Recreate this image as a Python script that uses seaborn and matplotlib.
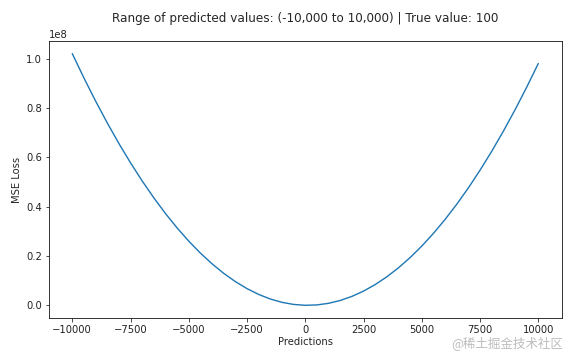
import matplotlib
matplotlib.use('Agg')
import matplotlib.pyplot as plt
import seaborn as sns
import pandas as pd

predictions = [-10000, -9500, -9000, -8500, -8000, -7500, -7000, -6500, -6000, -5500,
               -5000, -4500, -4000, -3500, -3000, -2500, -2000, -1500, -1000, -500,
               0, 500, 1000, 1500, 2000, 2500, 3000, 3500, 4000, 4500,
               5000, 5500, 6000, 6500, 7000, 7500, 8000, 8500, 9000, 9500, 10000]
mse_loss = [1.0201e8, 0.9216e8, 0.8281e8, 0.7396e8, 0.6561e8, 0.5776e8, 0.5041e8, 0.4356e8,
            0.3721e8, 0.3136e8, 0.2601e8, 0.2116e8, 0.1681e8, 0.1296e8, 0.0961e8, 0.0676e8,
            0.0441e8, 0.0256e8, 0.0121e8, 0.0036e8, 0.0001e8, 0.0016e8, 0.0081e8, 0.0196e8,
            0.0361e8, 0.0576e8, 0.0841e8, 0.1156e8, 0.1521e8, 0.1936e8, 0.2401e8, 0.2916e8,
            0.3481e8, 0.4096e8, 0.4761e8, 0.5476e8, 0.6241e8, 0.7056e8, 0.7921e8, 0.8836e8,
            0.9801e8]

df = pd.DataFrame({'Predictions': predictions, 'MSE Loss': mse_loss})

sns.set_style('ticks')
plt.rcParams['font.family'] = ['DejaVu Sans', 'Noto Sans CJK SC']

fig = plt.figure(figsize=(8, 5), dpi=72)
ax = fig.add_axes([0.085, 0.117, 0.89, 0.769])
sns.lineplot(data=df, x='Predictions', y='MSE Loss', ax=ax, color='#1f77b4', linewidth=1.4)

ax.set_xticks([-10000, -7500, -5000, -2500, 0, 2500, 5000, 7500, 10000])
ax.tick_params(labelsize=10, length=3.5, width=0.8, colors='#222222')
ax.yaxis.get_offset_text().set_fontsize(10)
ax.set_xlabel('Predictions', fontsize=10, labelpad=2)
ax.set_ylabel('MSE Loss', fontsize=10, labelpad=4)
for s in ax.spines.values():
    s.set_linewidth(0.9)
    s.set_color('#222222')

ax.set_title('Range of predicted values: (-10,000 to 10,000) | True value: 100', fontsize=12, pad=19)

fig.text(0.978, 0.047, '@稀土掘金技术社区', ha='right', va='center', fontsize=12.5,
         color='#bdbdbd', family=['Noto Sans CJK SC', 'DejaVu Sans'])

fig.savefig('out.png', dpi=72, facecolor='white')
